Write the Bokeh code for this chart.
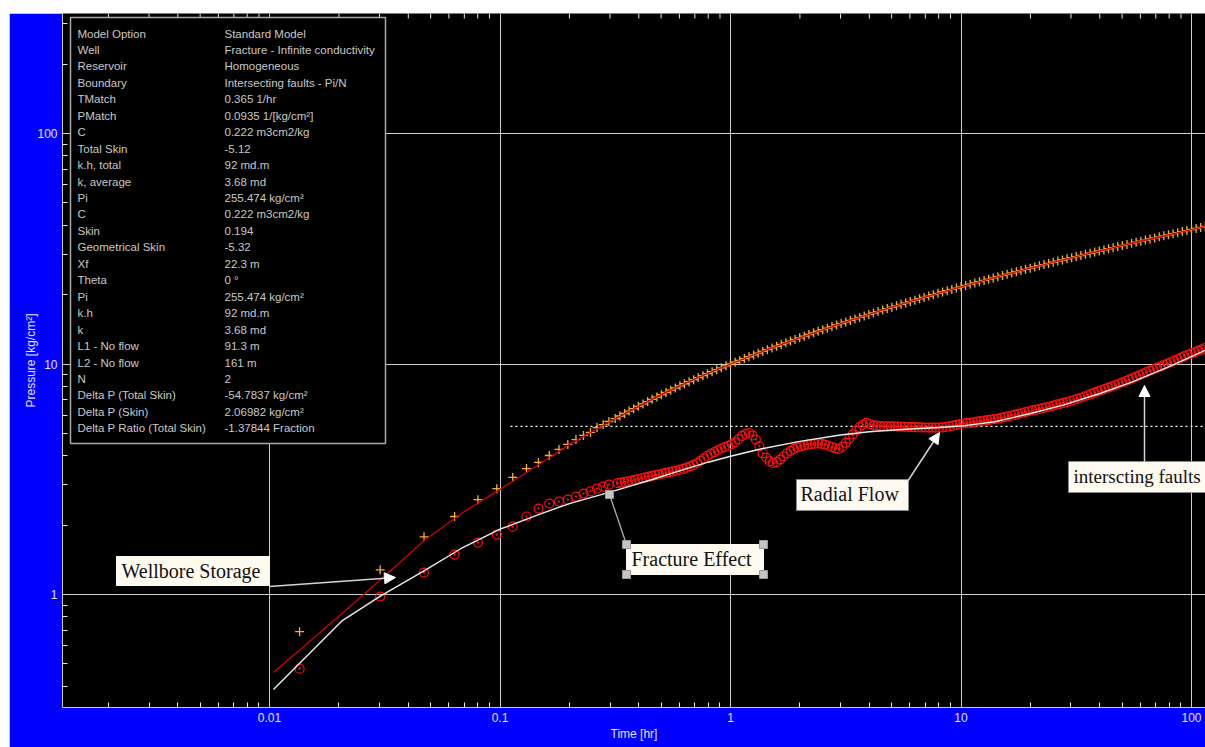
import math

from bokeh.core.properties import value
from bokeh.embed import file_html
from bokeh.layouts import column, row
from bokeh.models import (Arrow, ColumnDataSource, CustomJSTickFormatter,
                          FixedTicker, NormalHead, Spacer)
from bokeh.plotting import figure
from bokeh.resources import INLINE

# ---------------------------------------------------------------- data
# Measured pressure change (hr, kg/cm2)
time_p = [0.0135, 0.0302, 0.0468, 0.0635, 0.0802, 0.0968, 0.1135, 0.1302,
          0.1468, 0.1635, 0.1802, 0.1968, 0.2135, 0.2302, 0.2468, 0.2635,
          0.2802, 0.2968,
          0.316, 0.331, 0.347, 0.363, 0.380, 0.398, 0.417, 0.437, 0.457, 0.479,
          0.501, 0.525, 0.550, 0.576, 0.603, 0.631, 0.661, 0.692, 0.724, 0.759,
          0.794, 0.832, 0.871, 0.912, 0.955, 1.000, 1.047, 1.096, 1.148, 1.202,
          1.259, 1.318, 1.380, 1.445, 1.514, 1.585, 1.660, 1.738, 1.820, 1.905,
          1.995, 2.089, 2.188, 2.291, 2.399, 2.512, 2.630, 2.754, 2.884, 3.020,
          3.162, 3.311, 3.467, 3.631, 3.802, 3.981, 4.169, 4.365, 4.571, 4.786,
          5.012, 5.248, 5.495, 5.754, 6.026, 6.310, 6.607, 6.918, 7.244, 7.586,
          7.943, 8.318, 8.710, 9.120, 9.550, 10.00, 10.47, 10.96, 11.48, 12.02,
          12.59, 13.18, 13.80, 14.45, 15.14, 15.85, 16.60, 17.38, 18.20, 19.05,
          19.95, 20.89, 21.88, 22.91, 23.99, 25.12, 26.30, 27.54, 28.84, 30.20,
          31.62, 33.11, 34.67, 36.31, 38.02, 39.81, 41.69, 43.65, 45.71, 47.86,
          50.12, 52.48, 54.95, 57.54, 60.26, 63.10, 66.07, 69.18, 72.44, 75.86,
          79.43, 83.18, 87.10, 91.20, 95.50, 100.0, 104.7, 109.6, 114.8]
pressure = [0.69, 1.28, 1.78, 2.18, 2.58, 2.88, 3.22, 3.52,
            3.74, 4.01, 4.26, 4.48, 4.70, 4.90, 5.05, 5.30,
            5.46, 5.63,
            5.80, 5.95, 6.10, 6.25, 6.40, 6.55, 6.71, 6.87, 7.03, 7.19,
            7.36, 7.53, 7.70, 7.87, 8.04, 8.21, 8.38, 8.55, 8.73, 8.90,
            9.08, 9.26, 9.45, 9.63, 9.82, 10.00, 10.18, 10.37, 10.56, 10.75,
            10.95, 11.14, 11.34, 11.54, 11.74, 11.94, 12.15, 12.36, 12.57, 12.78,
            12.99, 13.21, 13.43, 13.65, 13.87, 14.09, 14.31, 14.54, 14.77, 14.99,
            15.22, 15.45, 15.69, 15.93, 16.17, 16.41, 16.65, 16.89, 17.14, 17.39,
            17.64, 17.89, 18.15, 18.40, 18.66, 18.92, 19.19, 19.45, 19.72, 19.99,
            20.26, 20.53, 20.80, 21.07, 21.35, 21.63, 21.91, 22.19, 22.47, 22.76,
            23.05, 23.34, 23.63, 23.93, 24.23, 24.53, 24.83, 25.13, 25.43, 25.74,
            26.06, 26.37, 26.68, 27.00, 27.32, 27.63, 27.95, 28.27, 28.60, 28.92,
            29.24, 29.57, 29.91, 30.24, 30.58, 30.92, 31.27, 31.62, 31.97, 32.32,
            32.67, 33.03, 33.40, 33.76, 34.12, 34.49, 34.87, 35.24, 35.61, 35.99,
            36.38, 36.76, 37.15, 37.54, 37.93, 38.33, 38.73, 39.13, 39.54]

# Measured pressure derivative (hr, kg/cm2)
time_d = [0.0135, 0.0302, 0.0468, 0.0635, 0.0802, 0.0968, 0.1135, 0.1302,
          0.1468, 0.1635, 0.1802, 0.1968, 0.2135, 0.2302, 0.2468, 0.2635,
          0.2802, 0.2968,
          0.324, 0.335, 0.347, 0.359, 0.372, 0.385, 0.398, 0.412, 0.427, 0.442,
          0.457, 0.473, 0.490, 0.507, 0.525, 0.543, 0.562, 0.582, 0.603, 0.624,
          0.646, 0.668, 0.692, 0.716, 0.741, 0.767, 0.794, 0.822, 0.851, 0.881,
          0.912, 0.944, 0.977, 1.012, 1.047, 1.084, 1.122, 1.161, 1.202, 1.245,
          1.288, 1.334, 1.380, 1.429, 1.479, 1.531, 1.585, 1.641, 1.698, 1.758,
          1.820, 1.884, 1.950, 2.018, 2.089, 2.163, 2.239, 2.317, 2.399, 2.483,
          2.570, 2.661, 2.754, 2.851, 2.951, 3.055, 3.162, 3.273, 3.388, 3.508,
          3.631, 3.758, 3.890, 4.027, 4.169, 4.315, 4.467, 4.624, 4.786, 4.955,
          5.129, 5.309, 5.495, 5.689, 5.888, 6.095, 6.310, 6.531, 6.761, 6.998,
          7.244, 7.499, 7.762, 8.035, 8.318, 8.610, 8.913, 9.226, 9.550, 9.886,
          10.23, 10.59, 10.96, 11.35, 11.75, 12.16, 12.59, 13.03, 13.49, 13.96,
          14.45, 14.96, 15.49, 16.03, 16.60, 17.18, 17.78, 18.41, 19.05, 19.72,
          20.42, 21.13, 21.88, 22.65, 23.44, 24.27, 25.12, 26.00, 26.92, 27.86,
          28.84, 29.85, 30.90, 31.99, 33.11, 34.28, 35.48, 36.73, 38.02, 39.36,
          40.74, 42.17, 43.65, 45.19, 46.77, 48.42, 50.12, 51.88, 53.70, 55.59,
          57.54, 59.57, 61.66, 63.83, 66.07, 68.39, 70.79, 73.28, 75.86, 78.52,
          81.28, 84.14, 87.10, 90.16, 93.33, 96.61, 100.0, 103.5, 107.2, 111.0,
          114.8]
derivative = [0.477, 0.98, 1.245, 1.49, 1.68, 1.82, 1.97, 2.18,
              2.36, 2.48, 2.53, 2.58, 2.66, 2.74, 2.80, 2.88,
              2.94, 3.00,
              3.04, 3.06, 3.08, 3.10, 3.12, 3.145, 3.17, 3.195, 3.22, 3.245,
              3.27, 3.295, 3.32, 3.345, 3.37, 3.395, 3.42, 3.45, 3.48, 3.51,
              3.55, 3.60, 3.65, 3.72, 3.81, 3.90, 4.00, 4.08, 4.15, 4.22,
              4.30, 4.36, 4.42, 4.49, 4.58, 4.72, 4.88, 4.98, 5.02, 4.90,
              4.70, 4.40, 4.10, 3.92, 3.78, 3.72, 3.75, 3.85, 3.98, 4.10,
              4.20, 4.28, 4.35, 4.40, 4.44, 4.47, 4.49, 4.51, 4.52, 4.50,
              4.47, 4.42, 4.36, 4.31, 4.28, 4.38, 4.55, 4.75, 4.95, 5.14,
              5.32, 5.46, 5.55, 5.48, 5.42, 5.40, 5.38, 5.37, 5.36, 5.36,
              5.36, 5.355, 5.35, 5.34, 5.33, 5.325, 5.32, 5.315, 5.31, 5.305,
              5.30, 5.30, 5.30, 5.305, 5.31, 5.33, 5.36, 5.40, 5.45, 5.49,
              5.52, 5.54, 5.56, 5.59, 5.62, 5.65, 5.68, 5.71, 5.74, 5.77,
              5.80, 5.84, 5.88, 5.93, 5.98, 6.03, 6.08, 6.13, 6.19, 6.24,
              6.29, 6.33, 6.38, 6.43, 6.48, 6.54, 6.60, 6.66, 6.72, 6.78,
              6.84, 6.91, 6.98, 7.06, 7.14, 7.23, 7.32, 7.42, 7.52, 7.61,
              7.70, 7.80, 7.90, 8.00, 8.10, 8.21, 8.32, 8.44, 8.56, 8.69,
              8.82, 8.95, 9.08, 9.22, 9.36, 9.49, 9.62, 9.75, 9.88, 10.03,
              10.18, 10.34, 10.50, 10.66, 10.82, 10.97, 11.12, 11.27, 11.42, 11.58,
              11.75]

# Type-curve model: pressure and derivative
model_time_p = [0.0104, 0.0207, 0.0325, 0.047, 0.07, 0.1, 0.15, 0.2, 0.3,
                0.4, 0.5, 0.7, 1.0, 1.5, 2.0, 3.16, 5.0, 7.0, 10.0, 15.0,
                20.0, 31.6, 50.0, 70.0, 100.0, 115.0]
model_pressure = [0.459, 0.83, 1.233, 1.72, 2.29, 2.86, 3.70, 4.48, 5.63,
                  6.55, 7.36, 8.62, 10.0, 11.72, 12.99, 15.22, 17.64, 19.5,
                  21.6, 24.2, 26.06, 29.24, 32.67, 35.3, 38.3, 39.54]
model_time_d = [0.0104, 0.0207, 0.030, 0.047, 0.0675, 0.1, 0.15, 0.2, 0.3,
                0.45, 0.625, 0.8, 1.0, 1.35, 2.0, 3.0, 4.0, 5.5, 8.0, 10.0,
                14.0, 20.0, 28.0, 40.0, 55.0, 78.5, 109.0, 115.0]
model_derivative = [0.387, 0.771, 0.98, 1.27, 1.58, 1.92, 2.24, 2.48, 2.78,
                    3.14, 3.48, 3.75, 3.98, 4.28, 4.62, 4.92, 5.08, 5.20,
                    5.30, 5.38, 5.62, 6.10, 6.65, 7.45, 8.35, 9.66, 11.2,
                    11.5]

# Radial-flow stabilisation level of the derivative
radial_level = 5.36
radial_start = 0.111

x_major = [0.01, 0.1, 1, 10, 100]
y_major = [1, 10, 100]

info_names = ["Model Option", "Well", "Reservoir", "Boundary", "TMatch",
              "PMatch", "C", "Total Skin", "k.h, total", "k, average", "Pi",
              "C", "Skin", "Geometrical Skin", "Xf", "Theta", "Pi", "k.h",
              "k", "L1 - No flow", "L2 - No flow", "N",
              "Delta P (Total Skin)", "Delta P (Skin)",
              "Delta P Ratio (Total Skin)"]
info_values = ["Standard Model", "Fracture - Infinite conductivity",
               "Homogeneous", "Intersecting faults - Pi/N", "0.365 1/hr",
               "0.0935 1/[kg/cm\u00b2]", "0.222 m3cm2/kg", "-5.12",
               "92 md.m", "3.68 md", "255.474 kg/cm\u00b2", "0.222 m3cm2/kg",
               "0.194", "-5.32", "22.3 m", "0 \u00b0", "255.474 kg/cm\u00b2",
               "92 md.m", "3.68 md", "91.3 m", "161 m", "2",
               "-54.7837 kg/cm\u00b2", "2.06982 kg/cm\u00b2",
               "-1.37844 Fraction"]

# ---------------------------------------------------------------- layout
X_RANGE = (0.001264, 115.0)
Y_RANGE = (0.3235, 331.6)
FRAME_W, FRAME_H = 1143, 694
PAD_LEFT, PAD_TOP = 9, 13          # white page margin around the figure
BORDER_LEFT, BORDER_BOTTOM = 53, 40

FRAME_LEFT = PAD_LEFT + BORDER_LEFT
FRAME_TOP = PAD_TOP
LX0, LX1 = math.log10(X_RANGE[0]), math.log10(X_RANGE[1])
LY0, LY1 = math.log10(Y_RANGE[0]), math.log10(Y_RANGE[1])


def at_x(px):
    """Page pixel column -> time value on the log axis."""
    return 10 ** (LX0 + (px - FRAME_LEFT) / FRAME_W * (LX1 - LX0))


def at_y(py):
    """Page pixel row -> pressure value on the log axis."""
    return 10 ** (LY1 - (py - FRAME_TOP) / FRAME_H * (LY1 - LY0))


p = figure(x_axis_type="log", y_axis_type="log",
           x_range=X_RANGE, y_range=Y_RANGE,
           frame_width=FRAME_W, frame_height=FRAME_H,
           min_border_left=BORDER_LEFT, min_border_right=0,
           min_border_top=0, min_border_bottom=BORDER_BOTTOM,
           background_fill_color="black", border_fill_color="#0000ff",
           outline_line_color=None,
           output_backend="svg", toolbar_location=None)

x_minor = [k * 10.0 ** e for e in range(-3, 3) for k in range(2, 10)]
y_minor = [k * 10.0 ** e for e in range(-1, 3) for k in range(2, 10)]
xticker = FixedTicker(ticks=x_major, minor_ticks=x_minor)
yticker = FixedTicker(ticks=y_major, minor_ticks=y_minor)
fmt = CustomJSTickFormatter(code="return tick.toString();")

LABEL_COLOR = "#e4e4ff"
AXIS_COLOR = "#c8c8c8"
TICK_COLOR = "#e8e8e8"
SANS = "Liberation Sans"

p.xaxis.ticker = xticker
p.yaxis.ticker = yticker
p.xaxis.formatter = fmt
p.yaxis.formatter = fmt
p.xgrid.ticker = xticker
p.ygrid.ticker = yticker
for ax in (p.xaxis[0], p.yaxis[0]):
    ax.axis_line_color = AXIS_COLOR
    ax.major_tick_in = 0
    ax.major_tick_out = 0
    ax.minor_tick_in = 5
    ax.minor_tick_out = 0
    ax.minor_tick_line_color = TICK_COLOR
    ax.major_label_text_color = LABEL_COLOR
    ax.major_label_text_font = SANS
    ax.major_label_text_font_size = "12px"
    ax.axis_label_text_color = LABEL_COLOR
    ax.axis_label_text_font = SANS
    ax.axis_label_text_font_size = "12px"
    ax.axis_label_text_font_style = "normal"
p.xaxis.axis_label = "Time [hr]"
p.yaxis.axis_label = "Pressure [kg/cm\u00b2]"
p.xaxis.major_label_standoff = 5
p.xaxis.axis_label_standoff = 2
p.yaxis.major_label_standoff = 5
p.yaxis.axis_label_standoff = -4

for g in (p.xgrid[0], p.ygrid[0]):
    g.grid_line_color = "#cfcfcf"
    g.grid_line_width = 1

# minor ticks hanging from the top edge of the frame
top_ticks = [x for x in x_minor if X_RANGE[0] < x < X_RANGE[1]]
p.segment(x0=top_ticks, x1=top_ticks,
          y0=[Y_RANGE[1]] * len(top_ticks),
          y1=[at_y(FRAME_TOP + 5)] * len(top_ticks),
          line_color=TICK_COLOR, line_width=1)

# ---------------------------------------------------------------- info box
p.quad(left=[at_x(70)], right=[at_x(385)], top=[at_y(17)], bottom=[at_y(443)],
       fill_color="black", line_color="#a8a8a8", line_width=1.5)
rows = len(info_names)
row_y = [at_y(33 + 16.45 * i) for i in range(rows)]
info_src = ColumnDataSource(dict(
    x1=[at_x(77)] * rows, x2=[at_x(224)] * rows, y=row_y,
    names=info_names, vals=info_values))
for xcol, tcol in (("x1", "names"), ("x2", "vals")):
    p.text(x=xcol, y="y", text=tcol, source=info_src,
           text_font=value(SANS), text_font_size=value("11.5px"),
           text_color="#c8c8c8", text_baseline="middle", text_align="left")

# ---------------------------------------------------------------- curves
p.segment(x0=[radial_start], x1=[X_RANGE[1]], y0=[radial_level],
          y1=[radial_level], line_color="white", line_width=1.2,
          line_dash="2 3")
p.scatter(time_p, pressure, marker="cross", size=9, line_color="#f2b038",
          line_width=1.3)
p.scatter(time_d, derivative, marker="circle_dot", size=9,
          line_color="#ff1010", fill_color=None, line_width=1.2)
p.line(model_time_p, model_pressure, line_color="#d00000", line_width=1.3)
p.line(model_time_d, model_derivative, line_color="#ececec", line_width=1.4)

# ---------------------------------------------------------------- callouts
SERIF = "Liberation Serif"
BOX_FILL = "#fffaf0"


def callout(x0, x1, y0, y1, text, tx, ty, border, size="20px"):
    p.quad(left=[at_x(x0)], right=[at_x(x1)], top=[at_y(y0)],
           bottom=[at_y(y1)], fill_color=BOX_FILL,
           line_color=border, line_width=1)
    p.text(x=[at_x(tx)], y=[at_y(ty)], text=[text],
           text_font=value(SERIF), text_font_size=value(size),
           text_color="#111111", text_baseline="middle", text_align="left")


def pointer(x0, y0, x1, y1):
    p.add_layout(Arrow(end=NormalHead(size=11, fill_color="white",
                                      line_color="white"),
                       x_start=at_x(x0), y_start=at_y(y0),
                       x_end=at_x(x1), y_end=at_y(y1),
                       line_color="#d4d4d4", line_width=1.5))


callout(116, 269, 556, 585, "Wellbore Storage", 121, 570, BOX_FILL)
pointer(269, 586, 395, 577)

# Fracture callout: connector and selection handles
p.segment(x0=[at_x(609)], y0=[at_y(494)], x1=[at_x(626)], y1=[at_y(544)],
          line_color="#b0b0b0", line_width=1.3)
callout(626, 763, 544, 574, "Fracture Effect", 631, 558, BOX_FILL)
p.scatter([at_x(609), at_x(626), at_x(763), at_x(626), at_x(763)],
          [at_y(494), at_y(544), at_y(544), at_y(574), at_y(574)],
          marker="square", size=8, fill_color="#c4c4c4",
          line_color="#9a9a9a")

callout(796, 908, 479, 510, "Radial Flow", 800, 493, "#8a8a8a")
pointer(907, 481, 939, 432)

callout(1068, 1230, 461, 492, "interscting faults", 1073, 476, "#8a8a8a",
        size="19px")
pointer(1144, 461, 1144, 385)

layout = column(Spacer(height=PAD_TOP),
                row(Spacer(width=PAD_LEFT), p))

open("out.html", "w").write(file_html(layout, INLINE))
